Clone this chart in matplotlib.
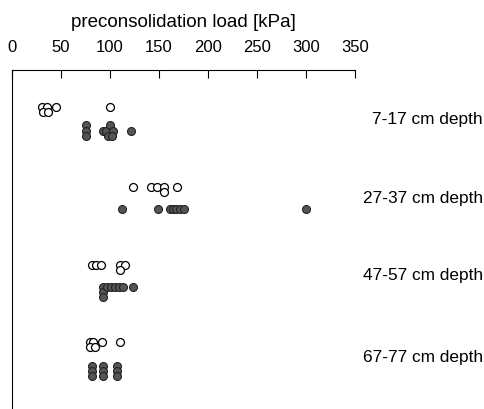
import numpy as np
import matplotlib.pyplot as plt

plt.rcParams['font.family'] = ['Liberation Sans', 'DejaVu Sans']

depths = ['7-17 cm depth', '27-37 cm depth', '47-57 cm depth', '67-77 cm depth']

# open circles: load [kPa] and vertical stack level per depth
open_load = [
    [31, 36, 45, 32, 37, 100],
    [123, 142, 148, 155, 155, 168],
    [82, 86, 91, 110, 115, 110],
    [80, 83, 92, 80, 85, 110],
]
open_stack = [
    [0, 0, 0, 1, 1, 0],
    [0, 0, 0, 0, 1, 0],
    [0, 0, 0, 0, 0, 1],
    [0, 0, 0, 1, 1, 0],
]

# filled circles
fill_load = [
    [76, 76, 76, 93, 96, 100, 103, 98, 102, 121],
    [112, 149, 161, 164, 167, 171, 175, 300],
    [93, 93, 93, 97, 101, 105, 109, 113, 123],
    [82, 82, 82, 93, 93, 93, 107, 107, 107],
]
fill_stack = [
    [-1, 0, 1, 0, 0, -1, 0, 1, 1, 0],
    [0, 0, 0, 0, 0, 0, 0, 0],
    [0, 1, 2, 0, 0, 0, 0, 0, 0],
    [-1, 0, 1, -1, 0, 1, -1, 0, 1],
]

row_open = [0.47, 1.5, 2.5, 3.49]
row_fill = [0.78, 1.78, 2.78, 3.86]
row_label = [0.64, 1.65, 2.64, 3.69]
dy = 0.068

fig = plt.figure(figsize=(4.84, 4.09), dpi=100)
ax = fig.add_axes([12 / 484, 0, 343 / 484, 339 / 409])

for i in range(len(depths)):
    y = row_open[i] + dy * np.array(open_stack[i])
    ax.plot(open_load[i], y, 'o', ms=5.7, mfc='white', mec='black', mew=0.9, ls='none')
    y = row_fill[i] + dy * np.array(fill_stack[i])
    ax.plot(fill_load[i], y, 'o', ms=5.7, mfc='#555555', mec='#222222', mew=0.8, ls='none')
    ax.text(483 / 484, 1 - (70 + row_label[i] * 78) / 409, depths[i], transform=fig.transFigure,
            ha='right', va='center', fontsize=12.4)

ax.set_xlim(0, 350)
ax.set_ylim(4.35, 0)
ax.set_xticks(np.arange(0, 351, 50))
ax.set_yticks([])
ax.xaxis.tick_top()
ax.xaxis.set_label_position('top')
ax.set_xlabel('preconsolidation load [kPa]', fontsize=13.5, labelpad=9)
ax.tick_params(axis='x', direction='in', length=6, pad=11, labelsize=12)
ax.spines['right'].set_visible(False)
ax.spines['bottom'].set_visible(False)

fig.savefig('out.png', dpi=100)
